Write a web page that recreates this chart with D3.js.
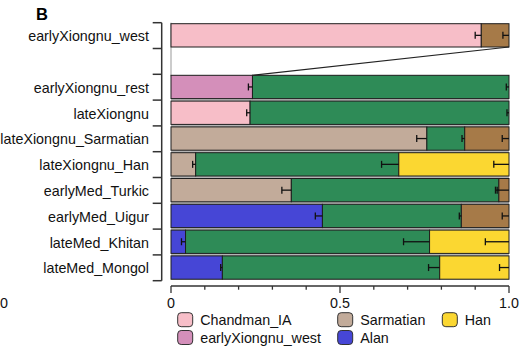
<!DOCTYPE html>
<html><head><meta charset="utf-8">
<script src="https://cdn.jsdelivr.net/npm/d3@7"></script>
<style>body{margin:0;background:#fff;} text{font-family:"Liberation Sans",Arial,sans-serif;}</style>
</head><body><svg id="c" width="526" height="357"></svg>
<script>
// ---- data ----
const rows = ["earlyXiongnu_west", "", "earlyXiongnu_rest", "lateXiongnu", "lateXiongnu_Sarmatian",
  "lateXiongnu_Han", "earlyMed_Turkic", "earlyMed_Uigur", "lateMed_Khitan", "lateMed_Mongol"];
const pops = ["earlyXiongnu_west", "earlyXiongnu_rest", "lateXiongnu", "lateXiongnu_Sarmatian",
  "lateXiongnu_Han", "earlyMed_Turkic", "earlyMed_Uigur", "lateMed_Khitan", "lateMed_Mongol"];
const sources = ["Chandman_IA", "earlyXiongnu_west", "Sarmatian", "Alan", "SlabGrave", "Xianbei", "Han"];
const Chandman_IA       = [0.918, 0,     0.234, 0,     0,     0,     0,     0,     0];
const earlyXiongnu_west = [0,     0.241, 0,     0,     0,     0,     0,     0,     0];
const Sarmatian         = [0,     0,     0,     0.757, 0.073, 0.356, 0,     0,     0];
const Alan              = [0,     0,     0,     0,     0,     0,     0.448, 0.043, 0.152];
const SlabGrave         = [0,     0.759, 0.766, 0.112, 0.601, 0.614, 0.411, 0.722, 0.643];
const Xianbei           = [0.082, 0,     0,     0.131, 0,     0.030, 0.141, 0,     0];
const Han               = [0,     0,     0,     0,     0.326, 0,     0,     0.235, 0.205];
const se_Chandman_IA       = [0.018, 0,     0.010, 0,     0,     0,     0,     0,     0];
const se_earlyXiongnu_west = [0,     0.012, 0,     0,     0,     0,     0,     0,     0];
const se_Sarmatian         = [0,     0,     0,     0.030, 0.009, 0.028, 0,     0,     0];
const se_Alan              = [0,     0,     0,     0,     0,     0,     0.021, 0.012, 0.005];
const se_SlabGrave         = [0,     0.008, 0.006, 0.008, 0.051, 0.010, 0.006, 0.077, 0.033];
const se_Xianbei           = [0.018, 0,     0,     0.020, 0,     0.035, 0.020, 0,     0];
const se_Han               = [0,     0,     0,     0,     0.045, 0,     0,     0.070, 0.028];
const xTicks = [0, 0.1, 0.2, 0.3, 0.4, 0.5, 0.6, 0.7, 0.8, 0.9, 1.0];
const xTickLabels = {0: "0", 0.5: "0.5", 1: "1.0"};
const legendItems = ["Chandman_IA", "earlyXiongnu_west", "Sarmatian", "Alan", "Han"];
const panelLabel = "B";

// ---- build ----
const vals = {Chandman_IA, earlyXiongnu_west, Sarmatian, Alan, SlabGrave, Xianbei, Han};
const ses = {Chandman_IA: se_Chandman_IA, earlyXiongnu_west: se_earlyXiongnu_west, Sarmatian: se_Sarmatian,
  Alan: se_Alan, SlabGrave: se_SlabGrave, Xianbei: se_Xianbei, Han: se_Han};
const colors = {Chandman_IA: "#f7bec8", earlyXiongnu_west: "#d48fba", Sarmatian: "#c2ab9a", Alan: "#4646d6",
  SlabGrave: "#2e8b57", Xianbei: "#a67a48", Han: "#fbd731"};
const table = pops.map((p, i) => {
  const o = {pop: p};
  sources.forEach(s => { o[s] = vals[s][i]; o["se_" + s] = ses[s][i]; });
  return o;
});
const stacked = d3.stack().keys(sources)(table);

const svg = d3.select("#c");
const x = d3.scaleLinear().domain([0, 1]).range([171, 509]);
const y = d3.scaleBand().domain(rows).range([22.7, 280.7]).paddingInner(0).paddingOuter(0);
const bw = y.bandwidth();

// gray background behind lower group
svg.append("rect").attr("x", x(0)).attr("width", x(1) - x(0))
  .attr("y", y("earlyXiongnu_rest") + 1).attr("height", y("lateMed_Mongol") + bw - 1 - y("earlyXiongnu_rest") - 1)
  .attr("fill", "#b4b4b4");

// left gray line through blank row
svg.append("line").attr("x1", x(0)).attr("x2", x(0)).attr("y1", y(rows[0])).attr("y2", y("earlyXiongnu_rest") + 2)
  .attr("stroke", "#999").attr("stroke-width", 1);

// bars
stacked.forEach(layer => {
  const key = layer.key;
  layer.forEach((seg, i) => {
    if (seg[1] - seg[0] <= 0) return;
    const p = table[i].pop;
    svg.append("rect")
      .attr("x", x(seg[0])).attr("width", x(seg[1]) - x(seg[0]))
      .attr("y", y(p) + 1).attr("height", bw - 2.5)
      .attr("fill", colors[key]).attr("stroke", "#1e1e1e").attr("stroke-width", 1);
  });
});
// error bars
stacked.forEach(layer => {
  const key = layer.key;
  layer.forEach((seg, i) => {
    if (seg[1] - seg[0] <= 0) return;
    const e = table[i]["se_" + key];
    if (!e) return;
    const p = table[i].pop;
    const cy = y(p) + 1 + (bw - 2.5) / 2;
    const g = svg.append("g").attr("stroke", "#111").attr("stroke-width", 1.3);
    g.append("line").attr("x1", x(seg[1] - e)).attr("x2", x(seg[1])).attr("y1", cy).attr("y2", cy);
    g.append("line").attr("x1", x(seg[1] - e)).attr("x2", x(seg[1] - e)).attr("y1", cy - 3.5).attr("y2", cy + 3.5);
  });
});

// zoom connector line
const restIdx = pops.indexOf("earlyXiongnu_rest");
svg.append("line")
  .attr("x1", x(1)).attr("y1", y(rows[0]) + bw - 1.5)
  .attr("x2", x(stacked[1][restIdx][1])).attr("y2", y("earlyXiongnu_rest") + 1)
  .attr("stroke", "#222").attr("stroke-width", 1.2);

// y axis
const yAxisX = 161.7;
svg.append("line").attr("x1", yAxisX).attr("x2", yAxisX).attr("y1", y.range()[0]).attr("y2", y.range()[1])
  .attr("stroke", "#333").attr("stroke-width", 1.5);
const bounds = rows.map(r => y(r)).concat([y.range()[1]]);
bounds.forEach(b => svg.append("line").attr("x1", yAxisX - 9).attr("x2", yAxisX).attr("y1", b).attr("y2", b)
  .attr("stroke", "#333").attr("stroke-width", 1.5));
rows.forEach(r => {
  if (!r) return;
  svg.append("text").attr("x", 149).attr("y", y(r) + bw / 2 + 0.5).attr("text-anchor", "end")
    .attr("dominant-baseline", "central").attr("font-size", 14.3).attr("fill", "#111").text(r);
});

// x axis
const axY = 286;
svg.append("line").attr("x1", x(0)).attr("x2", x(1)).attr("y1", axY).attr("y2", axY)
  .attr("stroke", "#333").attr("stroke-width", 1.5);
xTicks.forEach(t => {
  const major = xTickLabels[t] !== undefined;
  svg.append("line").attr("x1", x(t)).attr("x2", x(t)).attr("y1", axY).attr("y2", axY + (major ? 7 : 3.7))
    .attr("stroke", "#333").attr("stroke-width", 1.3);
  if (major) svg.append("text").attr("x", x(t)).attr("y", 303).attr("text-anchor", "middle")
    .attr("dominant-baseline", "central").attr("font-size", 14.3).attr("fill", "#111").text(xTickLabels[t]);
});
// tick label of a neighbouring panel at far left (kept fully visible)
svg.append("text").attr("x", 0).attr("y", 303).attr("text-anchor", "start").attr("dominant-baseline", "central")
  .attr("font-size", 14.3).attr("fill", "#111").text("0");

// panel label
svg.append("text").attr("x", 36).attr("y", 20).attr("font-size", 16.5).attr("font-weight", "bold")
  .attr("fill", "#000").text(panelLabel);

// legend
const legCols = [177.7, 337.7, 442.3];
const legRows = [312.7, 330.5];
legendItems.forEach((s, i) => {
  const cx = legCols[Math.floor(i / 2)], cy = legRows[i % 2];
  svg.append("rect").attr("x", cx).attr("y", cy).attr("width", 15).attr("height", 14).attr("rx", 3.5)
    .attr("fill", colors[s]).attr("stroke", "#333").attr("stroke-width", 1);
  svg.append("text").attr("x", cx + 22.5).attr("y", cy + 7.5).attr("dominant-baseline", "central")
    .attr("font-size", 14.3).attr("fill", "#111").text(s);
});
</script></body></html>
